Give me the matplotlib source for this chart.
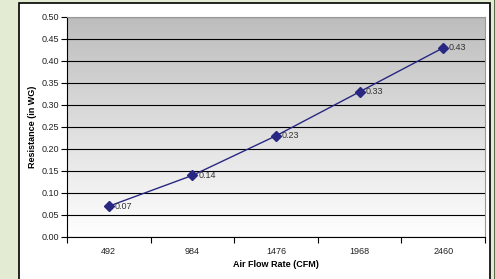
import numpy as np
import matplotlib.pyplot as plt
from matplotlib.patches import Rectangle
from matplotlib.colors import LinearSegmentedColormap

plt.rcParams['font.family'] = ['Liberation Sans', 'DejaVu Sans']

# data
flow = ['492', '984', '1476', '1968', '2460']
resistance = [0.07, 0.14, 0.23, 0.33, 0.43]

W, H = 495, 279
fig = plt.figure(figsize=(W / 100, H / 100), dpi=100)
fig.patch.set_facecolor('#e3ebd3')

# white chart box
fig.patches.append(Rectangle((19 / W, -0.05), (490 - 19) / W, 1 - 3 / H + 0.05,
                             transform=fig.transFigure, facecolor='white',
                             edgecolor='black', linewidth=1.2, zorder=-2))
fig.patches.append(Rectangle((493.5 / W, -0.05), 2 / W, 1.1,
                             transform=fig.transFigure, facecolor='#5a6a4a',
                             edgecolor='none', zorder=-2))

left, right, top, bottom = 67, 485, 17, 237
ax = fig.add_axes([left / W, 1 - bottom / H, (right - left) / W, (bottom - top) / H])
ax.set_zorder(1)

x = np.arange(len(flow))
ax.set_xlim(-0.5, len(flow) - 0.5)
ax.set_ylim(0, 0.5)

# gradient background gray -> white
grad = np.linspace(0, 1, 256).reshape(-1, 1)
ax.imshow(grad, extent=[-0.5, len(flow) - 0.5, 0, 0.5], aspect='auto',
          cmap=LinearSegmentedColormap.from_list('g', ['#ffffff', '#bdbdbd']),
          origin='lower', zorder=0)

yt = np.arange(0, 0.51, 0.05)
ax.set_yticks(yt)
ax.set_yticklabels(['%.2f' % v for v in yt], fontsize=6.5, color='#222222')
ax.yaxis.grid(True, color='black', linewidth=0.8, zorder=1)

ax.set_xticks(x)
ax.set_xticklabels(flow, fontsize=6.5, color='#222222')
ax.set_xticks(np.arange(-0.5, len(flow), 1), minor=True)
ax.tick_params(axis='x', which='major', length=0, pad=7)
ax.tick_params(axis='x', which='minor', length=4, direction='out', width=0.8)
ax.tick_params(axis='y', length=4, width=0.8, pad=2)

ax.plot(x, resistance, color='#282882', linewidth=1, marker='D', markersize=5,
        markerfacecolor='#282882', markeredgecolor='#282882', zorder=3)
for xi, yi in zip(x, resistance):
    ax.text(xi + 0.07, yi, '%.2f' % yi, fontsize=6.5, color='#333333', va='center', zorder=4)

for s in ['top', 'right']:
    ax.spines[s].set_color('#999999')
    ax.spines[s].set_linewidth(0.8)
for s in ['left', 'bottom']:
    ax.spines[s].set_color('black')
    ax.spines[s].set_linewidth(0.8)

ax.set_xlabel('Air Flow Rate (CFM)', fontsize=6.5, fontweight='bold', labelpad=3)
ax.set_ylabel('Resistance (in WG)', fontsize=6.5, fontweight='bold', labelpad=3)

fig.savefig('out.png', dpi=100)
